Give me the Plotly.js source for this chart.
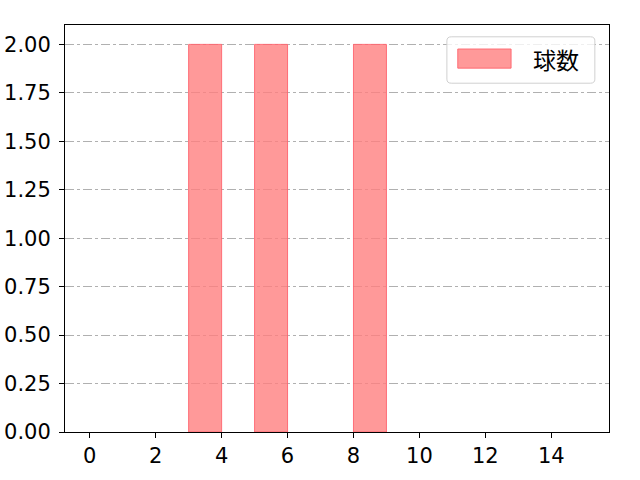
<!DOCTYPE html>
<html>
<head>
<meta charset="utf-8">
<script src="https://cdn.plot.ly/plotly-3.0.1.min.js"></script>
<style>
  html, body { margin: 0; padding: 0; background: #fff; }
  #chart { width: 640px; height: 480px; }
</style>
</head>
<body>
<div id="chart"></div>
<script>
// bin left edges (width 1) and counts per bin
const binStarts = [0, 1, 2, 3, 4, 5, 6, 7, 8, 9, 10, 11, 12, 13, 14];
const counts    = [0, 0, 0, 2, 0, 2, 0, 0, 2, 0, 0, 0, 0, 0, 0];
const seriesName = '球数';
const xTicks = [0, 2, 4, 6, 8, 10, 12, 14];
const yTicks = [0, 0.25, 0.5, 0.75, 1, 1.25, 1.5, 1.75, 2];

const tickFont = '"DejaVu Sans", sans-serif';
const cjkFont = '"Noto Sans CJK JP", sans-serif';
const barFill = 'rgba(255,128,128,0.8)';
const barEdge = 'rgba(255,100,110,0.9)';

const data = [{
  type: 'bar',
  x: binStarts,
  y: counts.map(c => c === 0 ? null : c), // empty bins draw nothing
  width: 1,
  offset: 0,
  name: seriesName,
  showlegend: false,
  marker: { color: barFill, line: { color: barEdge, width: 1 } }
}];

// rounded box path in paper coords
function roundBox(x0, y0, x1, y1, rx, ry) {
  return `M${x0 + rx},${y0} L${x1 - rx},${y0} Q${x1},${y0} ${x1},${y0 + ry} ` +
         `L${x1},${y1 - ry} Q${x1},${y1} ${x1 - rx},${y1} L${x0 + rx},${y1} ` +
         `Q${x0},${y1} ${x0},${y1 - ry} L${x0},${y0 + ry} Q${x0},${y0} ${x0 + rx},${y0} Z`;
}

const layout = {
  width: 640,
  height: 480,
  margin: { l: 65, r: 31, t: 25, b: 48 },
  paper_bgcolor: '#fff',
  plot_bgcolor: '#fff',
  font: { family: tickFont, size: 21, color: '#000' },
  bargap: 0,
  showlegend: false,
  xaxis: {
    range: [-0.75, 15.75],
    tickvals: xTicks,
    ticktext: xTicks.map(String),
    ticks: 'outside', ticklen: 5, tickwidth: 1, tickcolor: '#000',
    showgrid: false, zeroline: false,
    showline: true, linecolor: '#000', linewidth: 1, mirror: true
  },
  yaxis: {
    range: [0, 2.1],
    tickvals: yTicks,
    ticktext: yTicks.map(v => v.toFixed(2)),
    ticks: 'outside', ticklen: 5, tickwidth: 1, tickcolor: '#000',
    ticklabelstandoff: 4,
    showgrid: true, gridcolor: '#b0b0b0', griddash: 'dashdot', gridwidth: 1,
    zeroline: false,
    showline: true, linecolor: '#000', linewidth: 1, mirror: true
  },
  shapes: [
    { type: 'path', xref: 'paper', yref: 'paper',
      path: roundBox(0.702, 0.857, 0.974, 0.971, 0.008, 0.01),
      fillcolor: 'rgba(255,255,255,0.8)', line: { color: '#d0d0d0', width: 1 } },
    { type: 'rect', xref: 'paper', yref: 'paper',
      x0: 0.722, x1: 0.820, y0: 0.894, y1: 0.941,
      fillcolor: barFill, line: { color: barEdge, width: 1 } }
  ],
  annotations: [
    { xref: 'paper', yref: 'paper', x: 0.857, y: 0.916,
      xanchor: 'left', yanchor: 'middle', showarrow: false,
      text: seriesName, font: { family: cjkFont, size: 23, color: '#000' } }
  ]
};

Plotly.newPlot('chart', data, layout, { staticPlot: true });
</script>
</body>
</html>
